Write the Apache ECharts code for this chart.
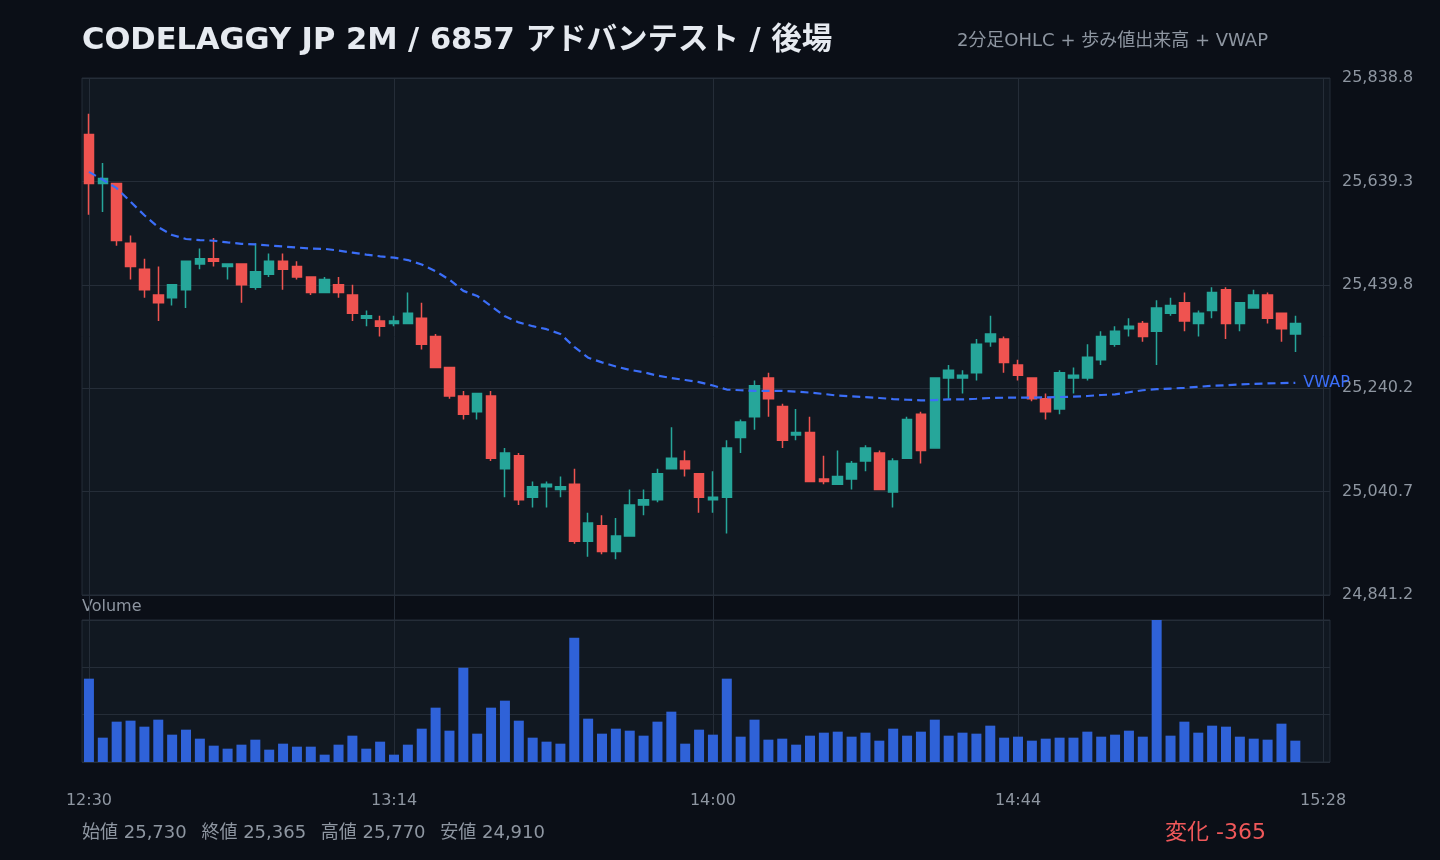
<!DOCTYPE html>
<html>
<head>
<meta charset="utf-8">
<title>6857 アドバンテスト 2M</title>
<script src="https://cdn.jsdelivr.net/npm/echarts@6/dist/echarts.min.js"></script>
<style>
  html, body { margin: 0; padding: 0; background: #0b0f17; }
  #chart { width: 1440px; height: 860px; }
</style>
</head>
<body>
<div id="chart"></div>
<script>
// 2-minute bars, afternoon session (12:30 - 15:28)
const times = [
  '12:30','12:32','12:34','12:36','12:38','12:40','12:42','12:44','12:46','12:48','12:50','12:52','12:54','12:56','12:58',
  '13:00','13:02','13:04','13:06','13:08','13:10','13:12','13:14','13:16','13:18','13:20','13:22','13:24','13:26','13:28',
  '13:30','13:32','13:34','13:36','13:38','13:40','13:42','13:44','13:46','13:48','13:50','13:52','13:54','13:56','13:58',
  '14:00','14:02','14:04','14:06','14:08','14:10','14:12','14:14','14:16','14:18','14:20','14:22','14:24','14:26','14:28',
  '14:30','14:32','14:34','14:36','14:38','14:40','14:42','14:44','14:46','14:48','14:50','14:52','14:54','14:56','14:58',
  '15:00','15:02','15:04','15:06','15:08','15:10','15:12','15:14','15:16','15:18','15:20','15:22','15:24','15:26','15:28'
];
const labelTimes = ['12:30', '13:14', '14:00', '14:44', '15:28'];

const opens = [
  25730, 25635, 25635, 25520, 25470, 25420, 25415, 25430, 25480, 25490, 25475, 25480, 25435, 25460, 25485,
  25475, 25455, 25425, 25440, 25420, 25375, 25370, 25365, 25365, 25375, 25340, 25280, 25225, 25195, 25225,
  25085, 25110, 25030, 25050, 25045, 25055, 24945, 24975, 24925, 24955, 25015, 25025, 25085, 25100, 25075,
  25025, 25030, 25145, 25185, 25260, 25205, 25150, 25155, 25065, 25055, 25065, 25100, 25115, 25040, 25105,
  25190, 25125, 25260, 25260, 25270, 25330, 25335, 25285, 25260, 25220, 25200, 25260, 25260, 25295, 25325,
  25355, 25365, 25350, 25385, 25405, 25365, 25390, 25430, 25365, 25395, 25420, 25385, 25345
];
const highs = [
  25770, 25675, 25635, 25535, 25490, 25475, 25440, 25485, 25510, 25530, 25480, 25480, 25520, 25500, 25500,
  25485, 25455, 25455, 25455, 25440, 25390, 25380, 25380, 25425, 25405, 25345, 25280, 25235, 25230, 25235,
  25125, 25115, 25060, 25060, 25070, 25085, 25000, 24995, 24990, 25045, 25045, 25085, 25165, 25120, 25075,
  25080, 25140, 25180, 25255, 25270, 25210, 25200, 25185, 25110, 25120, 25100, 25130, 25120, 25105, 25185,
  25195, 25260, 25285, 25275, 25335, 25380, 25340, 25295, 25260, 25230, 25275, 25280, 25325, 25350, 25360,
  25375, 25370, 25410, 25415, 25425, 25390, 25435, 25435, 25405, 25430, 25425, 25385, 25380
];
const lows = [
  25575, 25580, 25515, 25450, 25415, 25370, 25400, 25395, 25470, 25475, 25450, 25405, 25430, 25455, 25430,
  25450, 25420, 25425, 25415, 25370, 25360, 25340, 25360, 25365, 25315, 25280, 25220, 25180, 25180, 25100,
  25030, 25015, 25010, 25010, 25030, 24940, 24915, 24920, 24910, 24955, 24995, 25020, 25085, 25070, 25000,
  25000, 24960, 25115, 25160, 25185, 25125, 25140, 25060, 25055, 25055, 25045, 25080, 25045, 25010, 25105,
  25095, 25125, 25220, 25230, 25255, 25320, 25270, 25255, 25215, 25180, 25190, 25230, 25255, 25285, 25320,
  25340, 25330, 25285, 25380, 25350, 25340, 25375, 25335, 25350, 25395, 25365, 25330, 25310
];
const closes = [
  25635, 25645, 25525, 25475, 25430, 25405, 25440, 25485, 25490, 25485, 25480, 25440, 25465, 25485, 25470,
  25455, 25425, 25450, 25425, 25385, 25380, 25360, 25370, 25385, 25325, 25280, 25225, 25190, 25230, 25105,
  25115, 25025, 25050, 25055, 25050, 24945, 24980, 24925, 24955, 25015, 25025, 25075, 25105, 25085, 25030,
  25030, 25125, 25175, 25245, 25220, 25140, 25155, 25060, 25060, 25070, 25095, 25125, 25045, 25100, 25180,
  25120, 25260, 25275, 25265, 25325, 25345, 25290, 25265, 25220, 25195, 25270, 25265, 25300, 25340, 25350,
  25360, 25340, 25395, 25400, 25370, 25385, 25425, 25365, 25405, 25420, 25375, 25355, 25365
];
const vwap = [
  25657.6, 25642.5, 25626.2, 25600.0, 25573.9, 25550.9, 25535.9, 25528.1, 25526.1, 25524.8, 25521.5, 25518.9, 25517.6, 25515.6, 25513.7,
  25511.7, 25509.7, 25509.1, 25505.8, 25501.9, 25498.0, 25494.7, 25492.1, 25487.5, 25479.0, 25465.9, 25449.6, 25428.0, 25418.2, 25398.6,
  25378.9, 25367.2, 25359.9, 25354.1, 25344.9, 25320.0, 25299.1, 25290.0, 25282.1, 25275.6, 25271.0, 25264.4, 25259.9, 25256.0, 25252.0,
  25245.5, 25237.6, 25236.3, 25235.0, 25235.0, 25235.0, 25233.7, 25231.7, 25229.1, 25225.9, 25224.5, 25223.2, 25221.3, 25219.3, 25218.0,
  25216.7, 25217.3, 25218.6, 25218.6, 25219.9, 25221.3, 25221.9, 25221.9, 25221.9, 25222.6, 25223.2, 25223.9, 25225.2, 25227.1, 25228.4,
  25232.4, 25236.3, 25238.3, 25239.6, 25240.9, 25242.9, 25244.8, 25246.1, 25247.4, 25248.7, 25249.4, 25250.1, 25250.7
];
const volumes = [
  25000, 7300, 12100, 12400, 10600, 12700, 8200, 9700, 7000, 4900, 4000, 5200, 6700, 3700, 5500,
  4600, 4600, 2200, 5200, 7900, 4000, 6100, 2200, 5200, 10000, 16300, 9400, 28300, 8500, 16300,
  18400, 12400, 7300, 6100, 5500, 37300, 13000, 8500, 10000, 9400, 7900, 12100, 15100, 5500, 9700,
  8200, 25000, 7600, 12700, 6700, 7000, 5200, 7900, 8800, 9100, 7600, 8800, 6400, 10000, 7900,
  9100, 12700, 7900, 8800, 8500, 10900, 7300, 7600, 6400, 7000, 7300, 7300, 9100, 7600, 8200,
  9400, 7600, 42600, 7900, 12100, 8800, 10900, 10600, 7600, 7000, 6700, 11500, 6400
];

// layout
const GRID_L = 82, GRID_R = 110;
const MAIN_TOP = 78, MAIN_H = 517;
const VOL_TOP = MAIN_TOP + MAIN_H, VOL_H = 167, VOL_GAP = 25;

const C_UP = '#26a69a', C_DOWN = '#ef5350', C_VOL = '#2f62d8', C_VWAP = '#3b6ef8';
const C_GRIDBG = '#111821', C_LINE = '#252d38', C_TEXT = '#8e96a1';
const FONT = '"DejaVu Sans", "Noto Sans CJK JP", sans-serif';

const hi = Math.max(...highs), lo = Math.min(...lows);
const pad = (hi - lo) * 0.08;
const priceMin = lo - pad, priceMax = hi + pad, span = priceMax - priceMin;
const volMax = Math.max(...volumes);
const fmt = (v, d) => v.toLocaleString('en-US', { minimumFractionDigits: d, maximumFractionDigits: d });

const candles = opens.map((o, i) => [o, closes[i], lows[i], highs[i]]);
const showAtLabel = (idx, val) => labelTimes.indexOf(val) >= 0;
const GAP = ' \u2002';

const chart = echarts.init(document.getElementById('chart'), null, { renderer: 'canvas' });

const option = {
  backgroundColor: '#0b0f17',
  animation: false,
  textStyle: { fontFamily: FONT },
  grid: [
    { left: GRID_L, right: GRID_R, top: MAIN_TOP, height: MAIN_H, show: true,
      backgroundColor: C_GRIDBG, borderColor: C_LINE, borderWidth: 1 },
    { left: GRID_L, right: GRID_R, top: VOL_TOP, height: VOL_H, show: false }
  ],
  xAxis: [
    { type: 'category', gridIndex: 0, data: times, boundaryGap: true,
      axisLine: { show: false }, axisTick: { show: false }, axisLabel: { show: false },
      splitLine: { show: true, interval: showAtLabel, alignWithLabel: true, lineStyle: { color: C_LINE, width: 1 } } },
    { type: 'category', gridIndex: 1, data: times, boundaryGap: true,
      axisLine: { show: false }, axisTick: { show: false },
      axisLabel: { interval: showAtLabel, color: C_TEXT, fontSize: 16, margin: 31, fontFamily: FONT },
      splitLine: { show: true, interval: showAtLabel, alignWithLabel: true, lineStyle: { color: C_LINE, width: 1 } } }
  ],
  yAxis: [
    // raw price scale used by the series
    { type: 'value', gridIndex: 0, position: 'right', min: priceMin, max: priceMax, show: false },
    // label/grid scale, measured from the bottom of the range
    { type: 'value', gridIndex: 0, position: 'right', min: 0, max: span, interval: span / 5,
      axisLine: { show: false }, axisTick: { show: false },
      axisLabel: { color: C_TEXT, fontSize: 16, margin: 12, fontFamily: FONT,
        formatter: v => fmt(priceMin + v, 1) },
      splitLine: { show: true, lineStyle: { color: C_LINE, width: 1 } } },
    { type: 'value', gridIndex: 1, min: 0, max: volMax * VOL_H / (VOL_H - VOL_GAP), interval: volMax / 3,
      axisLine: { show: false }, axisTick: { show: false }, axisLabel: { show: false },
      splitLine: { show: true, lineStyle: { color: C_LINE, width: 1 } } }
  ],
  series: [
    {
      name: 'OHLC', type: 'candlestick', xAxisIndex: 0, yAxisIndex: 0,
      data: candles, barWidth: 10,
      itemStyle: { color: C_UP, color0: C_DOWN, borderColor: C_UP, borderColor0: C_DOWN, borderWidth: 1.5 }
    },
    {
      name: 'VWAP', type: 'line', xAxisIndex: 0, yAxisIndex: 0,
      data: vwap, showSymbol: false, symbol: 'none', smooth: false,
      lineStyle: { color: C_VWAP, width: 2.2, type: [8, 5] },
      endLabel: { show: true, formatter: 'VWAP', color: C_VWAP, fontSize: 16, distance: 8, fontFamily: FONT },
      z: 3
    },
    {
      name: 'Volume', type: 'bar', xAxisIndex: 1, yAxisIndex: 2,
      data: volumes, barWidth: 10,
      itemStyle: { color: C_VOL }
    }
  ],
  graphic: [
    { type: 'rect', z: -1, silent: true,
      shape: { x: GRID_L, y: VOL_TOP + VOL_GAP, width: 1440 - GRID_L - GRID_R, height: VOL_H - VOL_GAP },
      style: { fill: C_GRIDBG, stroke: C_LINE, lineWidth: 1 } },
    { type: 'text', silent: true, style: { x: GRID_L, y: VOL_TOP + 12, text: 'Volume',
      fill: C_TEXT, font: '16px ' + FONT, align: 'left', verticalAlign: 'middle', textAlign: 'left', textVerticalAlign: 'middle' } },
    { type: 'text', silent: true, style: { x: 82, y: 41, text: 'CODELAGGY JP 2M / 6857 アドバンテスト / 後場',
      fill: '#e6eaf0', font: 'bold 30.5px ' + FONT, align: 'left', verticalAlign: 'middle', textAlign: 'left', textVerticalAlign: 'middle' } },
    { type: 'text', silent: true, style: { x: 1268, y: 41, text: '2分足OHLC + 歩み値出来高 + VWAP',
      fill: C_TEXT, font: '18px ' + FONT, align: 'right', verticalAlign: 'middle', textAlign: 'right', textVerticalAlign: 'middle' } },
    { type: 'text', silent: true, style: { x: 82, y: 833,
      text: '始値 ' + fmt(opens[0], 0) + GAP + '終値 ' + fmt(closes[closes.length - 1], 0) +
            GAP + '高値 ' + fmt(hi, 0) + GAP + '安値 ' + fmt(lo, 0),
      fill: C_TEXT, font: '18px ' + FONT, align: 'left', verticalAlign: 'middle', textAlign: 'left', textVerticalAlign: 'middle' } },
    { type: 'text', silent: true, style: { x: 1266, y: 833,
      text: '変化 ' + (closes[closes.length - 1] - opens[0]),
      fill: '#f0585a', font: '22px ' + FONT, align: 'right', verticalAlign: 'middle', textAlign: 'right', textVerticalAlign: 'middle' } }
  ]
};

chart.setOption(option);
</script>
</body>
</html>
